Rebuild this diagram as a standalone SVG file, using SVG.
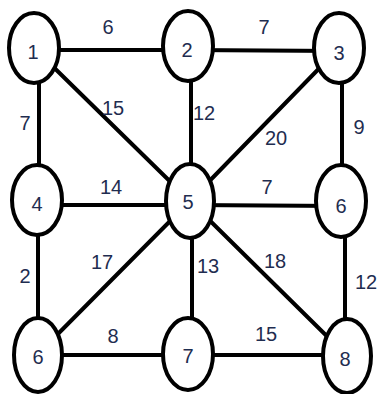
<svg xmlns="http://www.w3.org/2000/svg" width="379" height="394" viewBox="0 0 379 394">
<style>
.e{stroke:#000;stroke-width:4;fill:none;stroke-linecap:round}
.n ellipse{fill:#fff;stroke:#000;stroke-width:4}
text{font-family:"Liberation Sans",Arial,sans-serif;font-size:20px;fill:#1f2d50;text-anchor:middle}
</style>
<rect width="379" height="394" fill="#fff"/>
<g id="edges" class="e">
<line x1="34" y1="50" x2="188" y2="50"/>
<line x1="188" y1="50" x2="339" y2="51"/>
<line x1="39" y1="48" x2="39" y2="200"/>
<line x1="34" y1="48" x2="190" y2="201"/>
<line x1="191" y1="46" x2="191" y2="201"/>
<line x1="339" y1="48" x2="190" y2="201"/>
<line x1="342" y1="48" x2="342" y2="201"/>
<line x1="35" y1="205" x2="190" y2="205"/>
<line x1="190" y1="205" x2="341" y2="206"/>
<line x1="38" y1="200" x2="38" y2="354"/>
<line x1="190" y1="201" x2="38" y2="354"/>
<line x1="192" y1="201" x2="192" y2="354"/>
<line x1="190" y1="201" x2="347" y2="356"/>
<line x1="345" y1="201" x2="345" y2="356"/>
<line x1="38" y1="355" x2="188" y2="355"/>
<line x1="188" y1="355" x2="347" y2="355"/>
</g>
<g id="n1" class="n"><ellipse cx="34" cy="48" rx="25" ry="35"/><text x="33" y="59">1</text></g>
<g id="n2" class="n"><ellipse cx="188" cy="46" rx="25" ry="35"/><text x="187" y="57">2</text></g>
<g id="n3" class="n"><ellipse cx="339" cy="48" rx="25" ry="35"/><text x="339" y="60">3</text></g>
<g id="n4" class="n"><ellipse cx="37" cy="200" rx="25" ry="35"/><text x="37" y="211">4</text></g>
<g id="n5" class="n"><ellipse cx="190" cy="201" rx="24" ry="37"/><text x="188" y="209">5</text></g>
<g id="n6a" class="n"><ellipse cx="341" cy="201" rx="25" ry="36"/><text x="341" y="213">6</text></g>
<g id="n6b" class="n"><ellipse cx="38" cy="355" rx="24" ry="37"/><text x="38" y="364">6</text></g>
<g id="n7" class="n"><ellipse cx="188" cy="354" rx="25" ry="36"/><text x="188" y="363">7</text></g>
<g id="n8" class="n"><ellipse cx="347" cy="356" rx="24" ry="37"/><text x="345" y="366">8</text></g>
<g id="labels">
<text x="108" y="34">6</text>
<text x="264" y="34">7</text>
<text x="25" y="130">7</text>
<text x="113" y="115">15</text>
<text x="204" y="120">12</text>
<text x="276" y="145">20</text>
<text x="359" y="134">9</text>
<text x="111" y="194">14</text>
<text x="267" y="194">7</text>
<text x="25" y="283">2</text>
<text x="102" y="269">17</text>
<text x="208" y="273">13</text>
<text x="275" y="268">18</text>
<text x="366" y="289">12</text>
<text x="113" y="343">8</text>
<text x="266" y="341">15</text>
</g>
</svg>
